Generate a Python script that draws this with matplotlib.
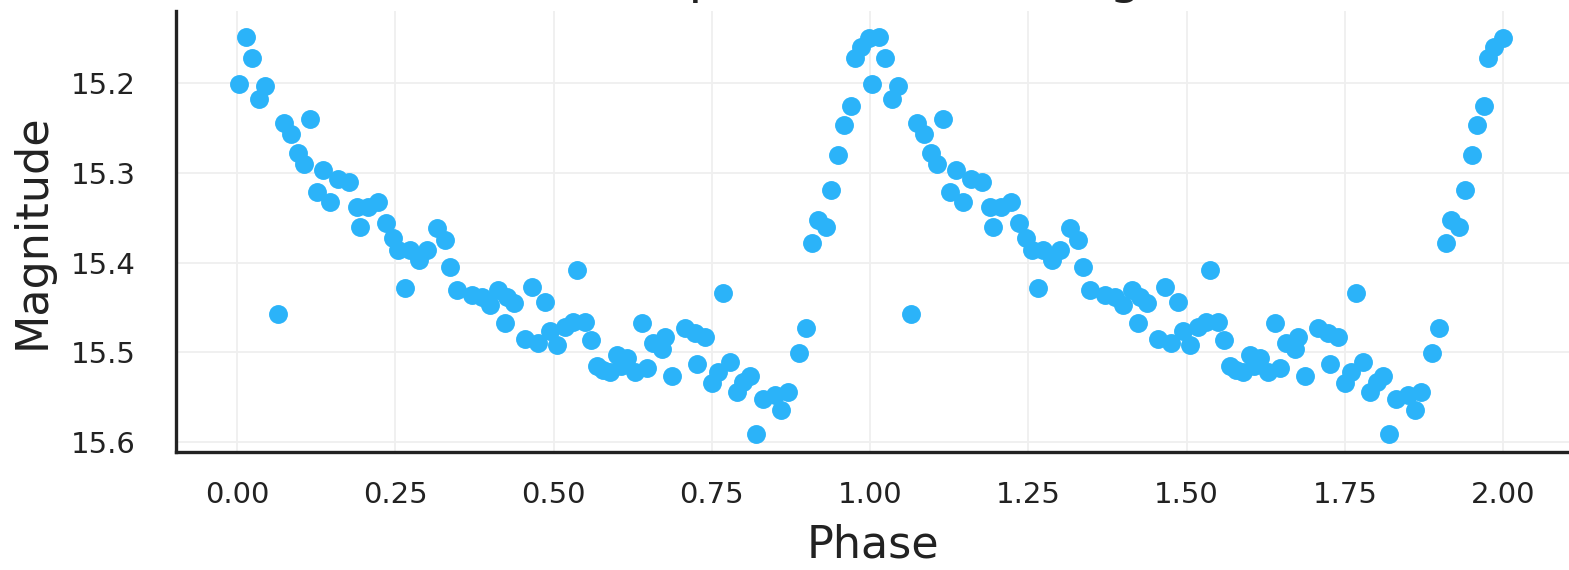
import numpy as np
import matplotlib
matplotlib.use("Agg")
import matplotlib.pyplot as plt

# folded light curve, one cycle (plotted twice: phase and phase + 1)
phase = [0.0037, 0.0142, 0.024, 0.0348, 0.0447, 0.065, 0.0748, 0.0848, 0.0958, 0.1058,
         0.1153, 0.126, 0.136, 0.147, 0.160, 0.177, 0.189, 0.194, 0.207, 0.223,
         0.236, 0.246, 0.255, 0.265, 0.273, 0.287, 0.300, 0.316, 0.328, 0.336,
         0.347, 0.371, 0.387, 0.400, 0.413, 0.423, 0.426, 0.437, 0.455, 0.466,
         0.476, 0.487, 0.494, 0.505, 0.518, 0.531, 0.537, 0.550, 0.559, 0.568,
         0.578, 0.589, 0.600, 0.607, 0.616, 0.629, 0.639, 0.647, 0.657, 0.671,
         0.676, 0.687, 0.708, 0.724, 0.727, 0.739, 0.750, 0.760, 0.768, 0.779,
         0.789, 0.800, 0.810, 0.820, 0.831, 0.850, 0.860, 0.871, 0.888, 0.898,
         0.909, 0.918, 0.931, 0.939, 0.950, 0.959, 0.970, 0.976, 0.986, 0.999]
mag = [15.201, 15.148, 15.172, 15.218, 15.203, 15.458, 15.244, 15.257, 15.278, 15.290,
       15.240, 15.321, 15.297, 15.332, 15.307, 15.310, 15.338, 15.360, 15.338, 15.333,
       15.356, 15.373, 15.386, 15.429, 15.386, 15.397, 15.386, 15.362, 15.375, 15.405,
       15.431, 15.436, 15.438, 15.447, 15.431, 15.468, 15.438, 15.445, 15.485, 15.427,
       15.490, 15.444, 15.477, 15.492, 15.472, 15.466, 15.408, 15.466, 15.486, 15.516,
       15.520, 15.522, 15.503, 15.515, 15.507, 15.522, 15.468, 15.518, 15.490, 15.496,
       15.483, 15.527, 15.473, 15.479, 15.513, 15.483, 15.535, 15.522, 15.434, 15.511,
       15.544, 15.533, 15.527, 15.591, 15.552, 15.548, 15.565, 15.544, 15.501, 15.473,
       15.378, 15.353, 15.360, 15.319, 15.280, 15.247, 15.225, 15.172, 15.159, 15.149]

xticks = [0.0, 0.25, 0.5, 0.75, 1.0, 1.25, 1.5, 1.75, 2.0]
yticks = [15.2, 15.3, 15.4, 15.5, 15.6]
title = "Star A: phase-folded magnitude"

ph = np.array(phase)
mg = np.array(mag)
x = np.concatenate([ph, ph + 1])
y = np.concatenate([mg, mg])

W, H = 1569, 570
fig = plt.figure(figsize=(W / 100, H / 100), dpi=100)
ax = fig.add_axes([176 / W, 118 / H, 1 - 176 / W, 441 / H])

ax.scatter(x, y, s=185, color="#2bb3f9", linewidths=0, zorder=3)

ax.set_xlim(-0.0964, 2.104)
ax.set_ylim(15.6115, 15.1193)
ax.set_xticks(xticks)
ax.set_xticklabels(["%.2f" % t for t in xticks])
ax.set_yticks(yticks)
ax.set_yticklabels(["%.1f" % t for t in yticks])
ax.tick_params(length=0, labelsize=21, colors="#222222")
ax.tick_params(axis="y", pad=29)
ax.tick_params(axis="x", pad=21)

ax.grid(True, color="#efefef", lw=1.3, zorder=0)
for s in ["top", "right"]:
    ax.spines[s].set_visible(False)
for s in ["left", "bottom"]:
    ax.spines[s].set_linewidth(2.4)
    ax.spines[s].set_color("#222222")

ax.set_xlabel("Phase", fontsize=32, color="#222222", labelpad=10)
ax.set_ylabel("Magnitude", fontsize=32, color="#222222", labelpad=12)

fig.text(504 / W, 1 + 7 / H, title, fontsize=36, color="#222222",
         ha="left", va="baseline")

fig.savefig("out.png", dpi=100)
